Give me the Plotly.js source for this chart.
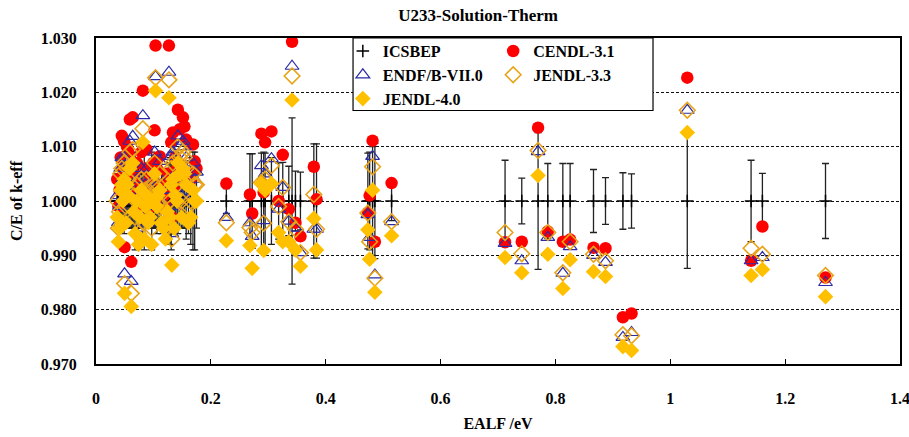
<!DOCTYPE html>
<html>
<head>
<meta charset="utf-8">
<script src="https://cdn.plot.ly/plotly-3.0.1.min.js"></script>
<style>html,body{margin:0;padding:0;background:#fff;}#chart{width:909px;height:437px;}</style>
</head>
<body>
<div id="chart"></div>
<script>
// EALF (eV) of each benchmark
const ealf = [
 0.037,0.039,0.041,0.043,0.045,0.047,0.049,0.0497,0.052,0.054,0.056,0.059,0.0614,0.064,0.066,0.068,0.071,0.074,0.076,0.079,
 0.0816,0.084,0.086,0.088,0.091,0.094,0.097,0.100,0.102,0.1037,0.106,0.108,0.111,0.114,0.118,0.121,0.124,0.127,0.129,0.131,
 0.132,0.134,0.136,0.138,0.141,0.1426,0.146,0.149,0.1514,0.154,0.157,0.161,0.165,0.1688,0.1718,0.175,
 0.227,0.268,0.272,0.288,0.292,0.2945,0.3055,0.318,0.3252,0.3357,0.3414,0.3473,0.356,0.3793,0.384,
 0.4734,0.4765,0.4816,0.4856,0.5147,
 0.7123,0.7414,0.7698,0.7867,0.8129,0.8256,0.8663,0.8872,0.9175,0.9325,1.0296,1.1407,1.1604,1.2703
];
// ICSBEP experimental C/E (=1) and its 1-sigma uncertainty
const icsbep = [
 1,1,1,1,1,1,1,1,1,1,1,1,1,1,1,1,1,1,1,1,
 1,1,1,1,1,1,1,1,1,1,1,1,1,1,1,1,1,1,1,1,
 1,1,1,1,1,1,1,1,1,1,1,1,1,1,1,1,
 1,1,1,1,1,1,1,1,1,1,1,1,1,1,1,
 1,1,1,1,1,
 1,1,1,1,1,1,1,1,1,1,1,1,1,1
];
const icsbepUnc = [
 0.005,0.004,0.005,0.005,0.005,0.005,0.006,0.005,0.005,0.005,0.005,0.005,0.005,0.005,0.006,0.009,0.005,0.006,0.005,0.005,
 0.006,0.009,0.005,0.005,0.005,0.005,0.009,0.005,0.005,0.005,0.006,0.004,0.004,0.006,0.005,0.005,0.006,0.007,0.008,0.009,
 0.006,0.006,0.005,0.005,0.005,0.006,0.005,0.005,0.005,0.005,0.007,0.006,0.008,0.009,0.009,0.005,
 0.0023,0.0087,0.0087,0.0088,0.009,0.0088,0.008,0.007,0.0071,0.0064,0.0153,0.0055,0.0053,0.0105,0.0105,
 0.0088,0.009,0.010,0.0106,0.0036,
 0.0075,0.0042,0.0126,0.0069,0.0069,0.0069,0.0058,0.0043,0.0052,0.005,0.0124,0.0075,0.0051,0.0069
];
const cendl31 = [
 1.004,0.999,1.002,1.008,1.012,1.006,1.011,0.9915,1.003,1.010,1.009,1.015,0.9888,1.0154,1.005,1.001,1.007,0.998,1.003,1.009,
 1.0203,1.000,1.006,1.0095,1.002,1.004,0.999,1.007,1.013,1.0286,1.006,1.008,1.0082,1.003,1.001,0.999,1.005,1.0286,1.004,1.0108,
 0.997,1.0126,1.002,1.008,1.006,1.0168,1.0132,1.004,1.0154,1.0137,1.0113,1.003,1.004,1.0104,1.0073,1.006,
 1.0032,1.0012,0.9977,1.0124,1.0016,1.0108,1.0128,1.0000,1.0085,0.9985,1.0293,0.9960,0.9935,1.0063,1.0003,
 0.9978,1.0010,1.0111,0.9925,1.0033,
 0.9924,0.9925,1.0135,0.9944,0.9925,0.9929,0.9914,0.9913,0.9786,0.9793,1.0227,0.9890,0.9953,0.9859
];
const endfb70 = [
 1.001,0.996,0.999,1.006,1.008,1.004,1.008,0.9866,1.000,1.007,1.006,1.011,0.9852,1.0119,1.002,0.998,1.004,0.995,1.001,1.006,
 1.0157,0.997,1.003,1.006,0.999,1.001,0.996,1.004,1.009,1.0229,1.003,1.0046,1.0073,1.000,0.999,0.996,1.002,1.0237,1.002,1.0082,
 0.994,1.009,0.999,1.005,1.004,1.012,1.010,1.001,1.011,1.010,1.008,1.000,1.001,1.007,1.004,1.0053,
 0.9970,0.9960,0.9935,1.0065,0.9964,1.0050,1.0078,0.9985,1.0025,0.9963,1.0248,0.9950,0.9905,0.9948,0.9948,
 0.9975,0.9933,1.0082,0.9864,0.9962,
 0.9922,0.9890,1.0091,0.9933,0.9867,0.9916,0.9900,0.9887,0.9749,0.9758,1.0167,0.9890,0.9896,0.9850
];
const jendl33 = [
 1.000,0.995,0.998,1.005,1.006,1.003,1.007,0.9848,0.999,1.006,1.004,1.009,0.9830,1.0095,1.001,0.997,1.003,0.994,0.999,1.004,
 1.0133,0.996,1.002,1.004,0.998,1.000,0.995,1.003,1.007,1.0227,1.002,1.003,1.005,0.999,0.998,0.995,1.001,1.0223,1.000,1.006,
 0.993,1.007,0.998,1.004,1.003,1.010,1.008,1.000,1.009,1.008,1.006,0.999,1.000,1.005,1.003,1.003,
 0.9960,0.9951,0.9942,1.0034,0.9959,1.0040,1.0065,0.9990,1.0025,0.9962,1.0230,0.9948,0.9905,1.0012,0.9948,
 0.9978,0.9925,1.0063,0.9858,0.9962,
 0.9942,0.9903,1.0093,0.9942,0.9868,0.9925,0.9902,0.9890,0.9754,0.9752,1.0167,0.9913,0.9902,0.9863
];
const jendl40 = [
 0.997,0.9925,0.995,1.002,1.003,1.000,1.004,0.9830,0.996,1.003,1.001,1.006,0.9806,1.007,0.998,0.994,1.000,0.992,0.997,1.002,
 1.0108,0.993,0.999,1.001,0.996,0.997,0.992,1.000,1.005,1.0203,0.999,1.001,1.002,0.996,0.995,0.993,0.998,1.019,0.997,1.003,
 0.9882,1.004,0.995,1.001,1.000,1.007,1.005,0.997,1.006,1.005,1.003,0.996,0.997,1.002,1.000,1.000,
 0.9927,0.9918,0.9876,1.0032,0.9909,1.0020,1.0032,0.9942,0.9925,0.9925,1.0186,0.9910,0.9880,0.9968,0.9910,
 0.9947,0.9893,1.0020,0.9832,0.9936,
 0.9896,0.9868,1.0047,0.9902,0.9839,0.9892,0.9870,0.9861,0.9732,0.9725,1.0126,0.9863,0.9874,0.9824
];
const seriesNames = ['ICSBEP','CENDL-3.1','ENDF/B-VII.0','JENDL-3.3','JENDL-4.0'];
const xTickVals = [0,0.2,0.4,0.6,0.8,1,1.2,1.4];
const xTickText = ['0','0.2','0.4','0.6','0.8','1','1.2','1.4'];
const yTickVals = [0.970,0.980,0.990,1.000,1.010,1.020,1.030];
const yTickText = ['0.970','0.980','0.990','1.000','1.010','1.020','1.030'];

const SERIF = 'Liberation Serif';
const fnt = (s) => ({family: SERIF, size: s, color: '#000', weight: 'bold'});

const traces = [
  {x: ealf, y: icsbep, name: seriesNames[0], type: 'scatter', mode: 'markers', legend: 'legend',
   marker: {symbol: 'cross-thin', size: 9, color: '#000', line: {width: 1.5, color: '#000'}},
   error_y: {type: 'data', array: icsbepUnc, visible: true, color: '#222', thickness: 1.3, width: 3.5}},
  {x: ealf, y: cendl31, name: seriesNames[1], type: 'scatter', mode: 'markers', legend: 'legend2',
   marker: {symbol: 'circle', size: 12.5, color: '#FF0000', line: {width: 0}}},
  {x: ealf, y: endfb70, name: seriesNames[2], type: 'scatter', mode: 'markers', legend: 'legend',
   marker: {symbol: 'triangle-up-open', size: 12, color: '#2B2BA8', line: {width: 1.2, color: '#2B2BA8'}}},
  {x: ealf, y: jendl33, name: seriesNames[3], type: 'scatter', mode: 'markers', legend: 'legend2',
   marker: {symbol: 'diamond-open', size: 12, color: '#E8A317', line: {width: 1.6, color: '#E8A317'}}},
  {x: ealf, y: jendl40, name: seriesNames[4], type: 'scatter', mode: 'markers', legend: 'legend',
   marker: {symbol: 'diamond', size: 12, color: '#FFC000', line: {width: 0}}}
];

const legendCommon = {
  bgcolor: 'rgba(0,0,0,0)', borderwidth: 0, font: fnt(16), xanchor: 'left', yanchor: 'top',
  orientation: 'v', tracegroupgap: 0, itemwidth: 30
};

const layout = {
  width: 909, height: 437,
  paper_bgcolor: '#fff', plot_bgcolor: '#fff',
  margin: {l: 96, r: 9, t: 38, b: 73, pad: 0, autoexpand: false},
  title: {text: 'U233-Solution-Therm', font: fnt(17), x: 0.526, xanchor: 'center', xref: 'container',
          y: 0.965, yanchor: 'middle'},
  xaxis: {
    range: [0, 1.40001], tickmode: 'array', tickvals: xTickVals, ticktext: xTickText,
    ticks: 'inside', ticklen: 5, tickwidth: 1, tickcolor: '#000',
    showline: true, linewidth: 2, linecolor: '#000', mirror: true,
    showgrid: false, zeroline: false, tickfont: fnt(16), ticklabelstandoff: 19,
    ticklabeloverflow: 'allow',
    title: {text: 'EALF /eV', font: fnt(16), standoff: 12}
  },
  yaxis: {
    range: [0.970, 1.030], tickmode: 'array', tickvals: yTickVals, ticktext: yTickText,
    ticks: '', showline: true, linewidth: 2, linecolor: '#000', mirror: true,
    showgrid: true, gridcolor: '#111', gridwidth: 1, griddash: '3px,2px',
    zeroline: false, tickfont: fnt(16), ticklabelstandoff: 14,
    title: {text: 'C/E of k-eff', font: fnt(16), standoff: 14}
  },
  shapes: [
    {type: 'rect', xref: 'paper', yref: 'paper', x0: 0.3197, x1: 0.6928, y0: 0.7776, y1: 1,
     fillcolor: '#fff', line: {color: '#000', width: 1.2}, layer: 'above'}
  ],
  legend: Object.assign({}, legendCommon, {x: 0.307, y: 1.012}),
  legend2: Object.assign({}, legendCommon, {x: 0.494, y: 1.012}),
  showlegend: true
};

Plotly.newPlot('chart', traces, layout, {displayModeBar: false, staticPlot: true});
</script>
</body>
</html>
